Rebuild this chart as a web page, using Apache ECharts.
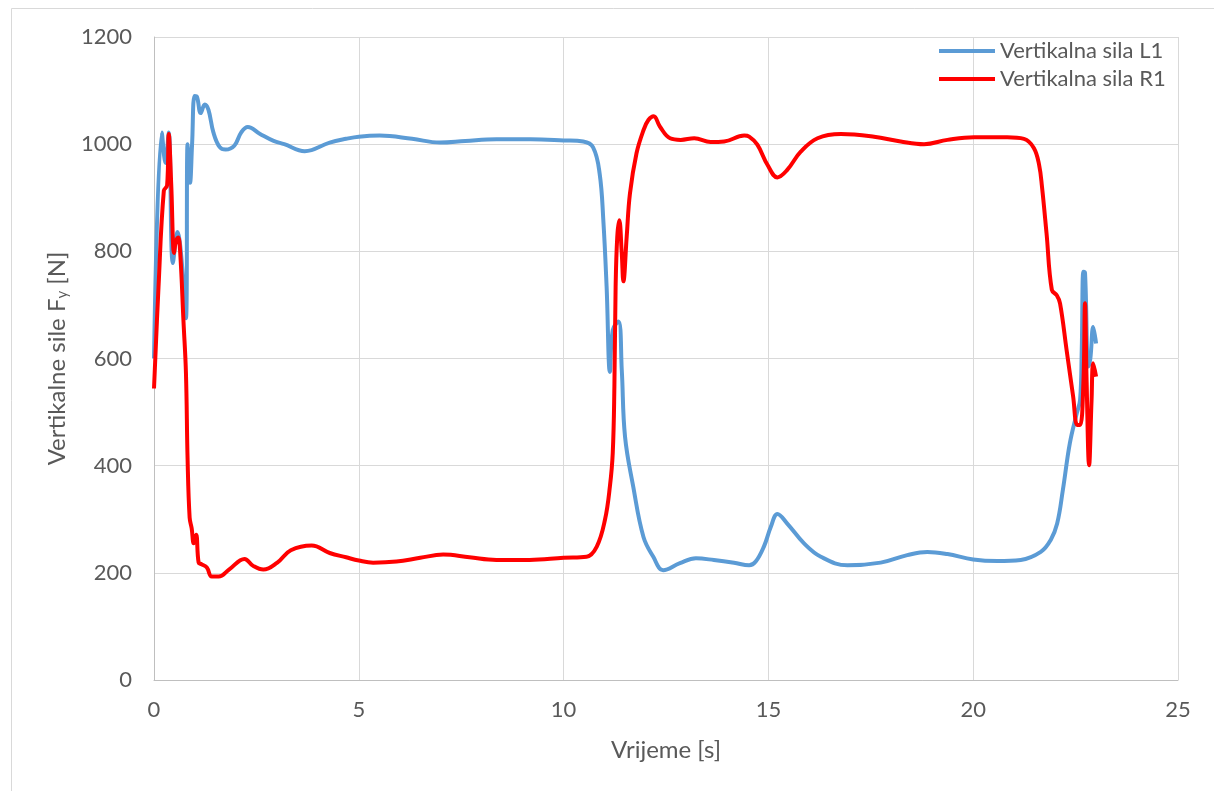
<!DOCTYPE html>
<html>
<head>
<meta charset="utf-8">
<script src="https://cdn.jsdelivr.net/npm/echarts@6/dist/echarts.min.js"></script>
<style>
html,body{margin:0;padding:0;background:#fff;}
#chart{width:1214px;height:791px;}
</style>
</head>
<body>
<div id="chart"></div>
<script>
// Time [s] and vertical force [N] for the left foot (L1)
const timeL1 = [0.00,0.19,0.28,0.36,0.46,0.57,0.78,0.82,0.88,0.93,0.99,1.05,1.14,1.24,1.33,1.45,1.60,1.75,1.96,2.13,2.29,2.59,2.92,3.18,3.68,4.29,4.69,5.00,5.51,6.30,6.98,7.60,8.36,9.20,10.00,10.48,10.72,10.88,10.97,11.05,11.13,11.20,11.34,11.42,11.50,11.70,11.95,12.19,12.43,12.84,13.23,13.67,14.16,14.53,14.69,14.89,15.06,15.22,15.46,15.87,16.28,16.93,17.74,18.39,18.88,19.37,20.00,20.59,21.16,21.65,21.89,22.05,22.19,22.36,22.53,22.61,22.65,22.69,22.73,22.81,22.86,22.93,23.00];
const forceL1 = [600,1022,965,1022,778,836,675,1000,928,1000,1090,1088,1058,1074,1064,1022,995,990,997,1022,1032,1019,1006,1000,987,1003,1010,1014,1016,1010,1003,1006,1009,1009,1007,1005,994,945,858,734,575,653,669,579,454,361,267,230,205,218,227,224,219,214,221,249,286,310,292,255,230,214,219,233,239,235,225,222,224,239,261,292,355,442,498,523,616,762,760,585,600,659,628];

// Time [s] and vertical force [N] for the right foot (R1)
const timeR1 = [0.00,0.11,0.24,0.32,0.36,0.42,0.49,0.53,0.59,0.64,0.72,0.78,0.82,0.87,0.92,0.97,1.03,1.09,1.16,1.29,1.41,1.58,1.83,2.21,2.42,2.67,3.01,3.34,3.85,4.29,4.69,5.00,5.35,5.92,6.50,7.06,7.70,8.36,9.17,10.00,10.56,10.81,11.01,11.13,11.20,11.24,11.27,11.31,11.36,11.42,11.46,11.54,11.62,11.78,11.95,12.07,12.20,12.35,12.60,12.86,13.19,13.59,13.92,14.41,14.53,14.73,14.98,15.22,15.46,15.79,16.20,16.77,17.58,18.23,18.80,19.37,20.02,20.83,21.24,21.48,21.61,21.68,21.79,21.92,22.04,22.12,22.28,22.44,22.54,22.61,22.69,22.73,22.77,22.83,22.89,22.93,23.00];
const forceR1 = [544,733,913,923,1019,926,797,817,826,797,669,573,412,303,283,255,271,219,216,210,193,193,206,226,213,206,219,242,251,237,229,223,219,221,228,234,229,224,224,228,230,249,299,361,424,547,734,827,858,796,744,827,908,983,1026,1045,1052,1033,1011,1008,1011,1004,1005,1016,1014,999,961,938,952,986,1011,1019,1014,1005,1000,1008,1013,1013,1010,993,961,920,834,728,718,703,616,529,476,476,554,703,554,401,523,591,566];

const seriesNames = ['Vertikalna sila L1', 'Vertikalna sila R1'];
const xTicks = [0, 5, 10, 15, 20, 25];
const yTicks = [0, 200, 400, 600, 800, 1000, 1200];

const pair = (t, f) => t.map((v, i) => [v, f[i]]);

const chart = echarts.init(document.getElementById('chart'), null, {renderer: 'canvas'});
const font = 'Lato, "Open Sans", sans-serif';
chart.setOption({
  backgroundColor: '#ffffff',
  animation: false,
  textStyle: {fontFamily: font},
  graphic: [{
    type: 'rect', left: 9, top: 6, silent: true,
    shape: {width: 1230, height: 820},
    style: {fill: 'none', stroke: '#d9d9d9', lineWidth: 1}
  }],
  grid: {left: 154, right: 36, top: 37, bottom: 111, containLabel: false},
  legend: {
    orient: 'vertical', left: 934, top: 35, itemGap: 6,
    icon: 'rect', itemWidth: 56, itemHeight: 4,
    textStyle: {fontFamily: font, fontSize: 22, lineHeight: 22, color: '#595959'},
    data: seriesNames
  },
  xAxis: {
    type: 'value', min: xTicks[0], max: xTicks[xTicks.length - 1], interval: 5,
    name: 'Vrijeme [s]', nameLocation: 'middle', nameGap: 58,
    nameTextStyle: {fontFamily: font, fontSize: 24, color: '#595959'},
    axisLine: {show: true, lineStyle: {color: '#bfbfbf', width: 1}},
    axisTick: {show: false},
    axisLabel: {fontFamily: font, fontSize: 22, color: '#595959', margin: 19, formatter: v => String(v)},
    splitLine: {show: true, lineStyle: {color: '#d9d9d9', width: 1}}
  },
  yAxis: {
    type: 'value', min: yTicks[0], max: yTicks[yTicks.length - 1], interval: 200,
    name: 'Vertikalne sile F{sub|y} [N]', nameLocation: 'middle', nameGap: 84,
    nameTextStyle: {
      fontFamily: font, fontSize: 24, color: '#595959',
      rich: {sub: {fontFamily: font, fontSize: 15, color: '#595959', verticalAlign: 'bottom', padding: [10, 0, 0, 0]}}
    },
    axisLine: {show: true, lineStyle: {color: '#bfbfbf', width: 1}},
    axisTick: {show: false},
    axisLabel: {fontFamily: font, fontSize: 22, color: '#595959', margin: 22, formatter: v => String(v)},
    splitLine: {show: true, lineStyle: {color: '#d9d9d9', width: 1}}
  },
  series: [
    {
      name: seriesNames[0], type: 'line', data: pair(timeL1, forceL1),
      symbol: 'none', smooth: 0.4,
      lineStyle: {color: '#5b9bd5', width: 4}, itemStyle: {color: '#5b9bd5'}, z: 2
    },
    {
      name: seriesNames[1], type: 'line', data: pair(timeR1, forceR1),
      symbol: 'none', smooth: 0.4,
      lineStyle: {color: '#ff0000', width: 4}, itemStyle: {color: '#ff0000'}, z: 3
    }
  ]
});
</script>
</body>
</html>
